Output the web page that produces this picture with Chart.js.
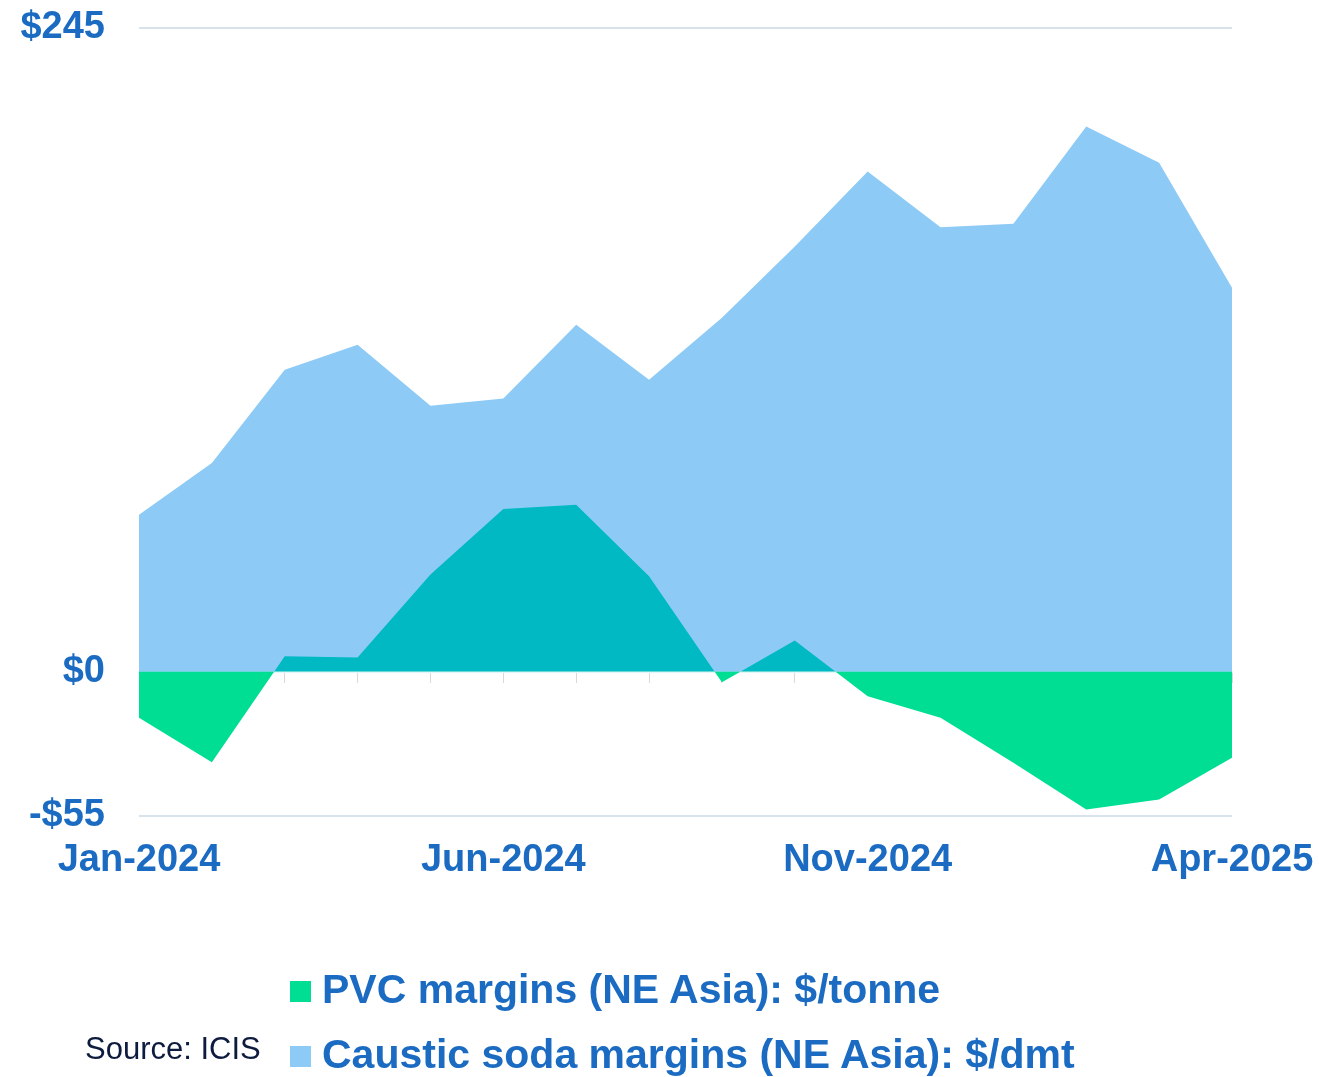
<!DOCTYPE html>
<html>
<head>
<meta charset="utf-8">
<script src="https://cdn.jsdelivr.net/npm/chart.js@4.4.1/dist/chart.umd.min.js"></script>
<style>
  html, body { margin: 0; padding: 0; background: #fff; }
  #wrap { position: relative; width: 1319px; height: 1077px; }
  #myChart { position: absolute; left: 0; top: 0; }
  .leg {
    position: absolute; left: 290px; height: 41px;
    display: flex; align-items: center;
    font-family: "Liberation Sans", Arial, sans-serif; font-weight: bold;
    font-size: 41px; line-height: 41px; color: #1a6bc1; white-space: nowrap;
  }
  .leg .box { display: inline-block; width: 21px; height: 21px; margin-right: 11px; margin-top: 4px; }
  .src {
    position: absolute; left: 85px; top: 1033px;
    font-family: "Liberation Sans", Arial, sans-serif;
    font-size: 31px; line-height: 31px; color: #0d1b3e;
  }
</style>
</head>
<body>
<div id="wrap">
  <canvas id="myChart" width="1319" height="1077"></canvas>
  <div class="src">Source: ICIS</div>
</div>
<script>
var months = ["Jan-2024", "Feb-2024", "Mar-2024", "Apr-2024", "May-2024", "Jun-2024",
  "Jul-2024", "Aug-2024", "Sep-2024", "Oct-2024", "Nov-2024", "Dec-2024",
  "Jan-2025", "Feb-2025", "Mar-2025", "Apr-2025"];

// $/tonne
var pvcMargins = [-17.6, -34.5, 5.8, 5.3, 36.9, 61.9, 63.5, 36.3,
  -4.1, 11.8, -9.4, -17.6, -34.7, -52.5, -48.7, -32.8];

// $/dmt
var causticMargins = [59.7, 79.4, 114.9, 124.4, 101.2, 103.9, 132.0, 111.1,
  134.7, 161.8, 190.4, 169.1, 170.5, 207.5, 193.7, 146.1];

var yTicks = [-55, 0, 245];

var textBlue = "#1a6bc1";
var tickFont = { family: "'Liberation Sans', Arial, sans-serif", size: 38, weight: "bold" };

var ctx = document.getElementById("myChart").getContext("2d");
var chart = new Chart(ctx, {
  type: "line",
  data: {
    labels: months,
    datasets: [
      {
        label: "PVC margins (NE Asia): $/tonne",
        data: pvcMargins,
        backgroundColor: "#00de94",
        borderColor: "transparent",
        borderWidth: 0,
        pointRadius: 0,
        fill: { target: "origin", above: "#00b9c3", below: "#00de94" }
      },
      {
        label: "Caustic soda margins (NE Asia): $/dmt",
        data: causticMargins,
        backgroundColor: "#8dcbf6",
        borderColor: "transparent",
        borderWidth: 0,
        pointRadius: 0,
        fill: "origin"
      }
    ]
  },
  options: {
    responsive: false,
    animation: false,
    layout: { padding: { top: 28, right: 87, bottom: 161, left: 0 } },
    plugins: {
      legend: { display: false },
      tooltip: { enabled: false }
    },
    scales: {
      x: {
        type: "category",
        offset: false,
        // invisible tick marks used as the gap under the plot
        grid: { drawOnChartArea: false, drawTicks: true, tickLength: 22, tickColor: "transparent" },
        border: { display: false },
        ticks: {
          autoSkip: false,
          maxRotation: 0,
          padding: 0,
          color: textBlue,
          font: tickFont,
          callback: function (val, i) {
            return i % 5 === 0 ? this.getLabelForValue(val) : "";
          }
        },
        afterFit: function (scale) { scale.height = 100; }
      },
      // zero line with the little month ticks, drawn over the areas
      x2: {
        type: "category",
        position: { y: 0 },
        z: 1,
        offset: false,
        ticks: { display: false, autoSkip: false },
        grid: { drawOnChartArea: false, drawTicks: true, tickLength: 10, color: "#ddd9d2", lineWidth: 1 },
        border: { display: true, color: "#e2f5fb", width: 2 }
      },
      y: {
        min: -55,
        max: 245,
        afterBuildTicks: function (scale) {
          scale.ticks = yTicks.map(function (v) { return { value: v }; });
        },
        afterFit: function (scale) { scale.width = 139; },
        grid: {
          drawTicks: true,
          tickLength: 34,
          tickColor: "transparent",
          lineWidth: 2,
          color: function (c) { return c.tick && c.tick.value === 0 ? "transparent" : "#d8e3eb"; }
        },
        border: { display: false },
        ticks: {
          padding: 0,
          color: textBlue,
          font: tickFont,
          callback: function (v) { return v < 0 ? "-$" + Math.abs(v) : "$" + v; }
        }
      }
    }
  }
});

// legend rows built from the datasets, stacked and left aligned
var wrap = document.getElementById("wrap");
var legTops = [969, 1034];
chart.data.datasets.forEach(function (ds, i) {
  var row = document.createElement("div");
  row.className = "leg";
  row.style.top = legTops[i] + "px";
  var box = document.createElement("span");
  box.className = "box";
  box.style.background = ds.backgroundColor;
  row.appendChild(box);
  row.appendChild(document.createTextNode(ds.label));
  wrap.appendChild(row);
});
</script>
</body>
</html>
